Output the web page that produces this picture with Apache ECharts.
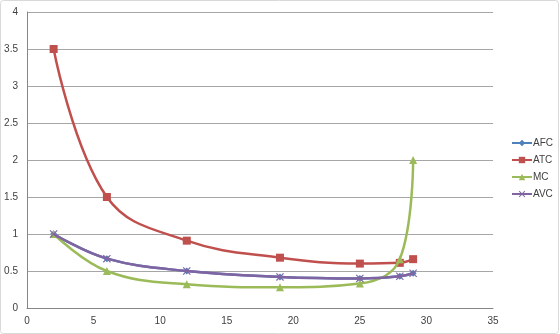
<!DOCTYPE html>
<html><head><meta charset="utf-8">
<script src="https://cdn.jsdelivr.net/npm/echarts@6/dist/echarts.min.js"></script>
<style>html,body{margin:0;padding:0;background:#fff}#c{width:560px;height:334px}</style>
</head><body><div id="c"></div>
<script>
var quantity = [2, 6, 12, 19, 25, 28, 29];
var afc = [1.0, 0.667, 0.5, 0.42, 0.4, 0.43, 0.47];
var atc = [3.5, 1.5, 0.91, 0.68, 0.6, 0.61, 0.66];
var mc  = [1.0, 0.5, 0.32, 0.28, 0.33, 0.66, 2.0];
var avc = [1.0, 0.667, 0.5, 0.42, 0.4, 0.43, 0.47];
var seriesNames = ['AFC', 'ATC', 'MC', 'AVC'];

function pairs(ys){ return quantity.map(function(x,i){ return [x, ys[i]]; }); }
var xSym = 'path://M0,1L1,0L5,4L9,0L10,1L6,5L10,9L9,10L5,6L1,10L0,9L4,5Z';
var colors = ['#4F81BD', '#C0504D', '#9BBB59', '#8064A2'];
var symbols = ['diamond', 'rect', 'triangle', xSym];
var sizes = [7, 8, 8, 8];
var dataSets = [afc, atc, mc, avc];

var chart = echarts.init(document.getElementById('c'));
chart.setOption({
  animation: false,
  textStyle: {fontFamily: 'Liberation Sans, Arial, sans-serif'},
  graphic: [{type: 'rect', shape: {x: 0.5, y: 0.5, width: 558, height: 333, r: 3}, style: {fill: 'none', stroke: '#d9d9d9', lineWidth: 1}, z: -1}],
  grid: {left: 27, right: 67, top: 12, bottom: 26},
  xAxis: {
    type: 'value', min: 0, max: 35, interval: 5,
    axisLine: {show: true, lineStyle: {color: '#868686'}},
    axisTick: {show: false},
    axisLabel: {color: '#404040', fontSize: 10, margin: 8},
    splitLine: {show: false}
  },
  yAxis: {
    type: 'value', min: 0, max: 4, interval: 0.5,
    axisLine: {show: true, lineStyle: {color: '#868686'}},
    axisTick: {show: false},
    axisLabel: {color: '#404040', fontSize: 10, margin: 9},
    splitLine: {show: true, lineStyle: {color: '#a6a6a6', width: 1}}
  },
  legend: {
    orient: 'vertical', right: 2, top: 133, itemGap: 7,
    itemWidth: 20, itemHeight: 8,
    textStyle: {color: '#404040', fontSize: 10, padding: [0,0,0,-4]},
    data: seriesNames
  },
  series: seriesNames.map(function(n, i){
    return {
      name: n, type: 'line', smooth: 0.4,
      data: pairs(dataSets[i]),
      symbol: symbols[i], symbolSize: sizes[i],
      lineStyle: {color: colors[i], width: 2.5},
      itemStyle: {color: colors[i]},
      z: 2 + i
    };
  })
});
</script></body></html>
